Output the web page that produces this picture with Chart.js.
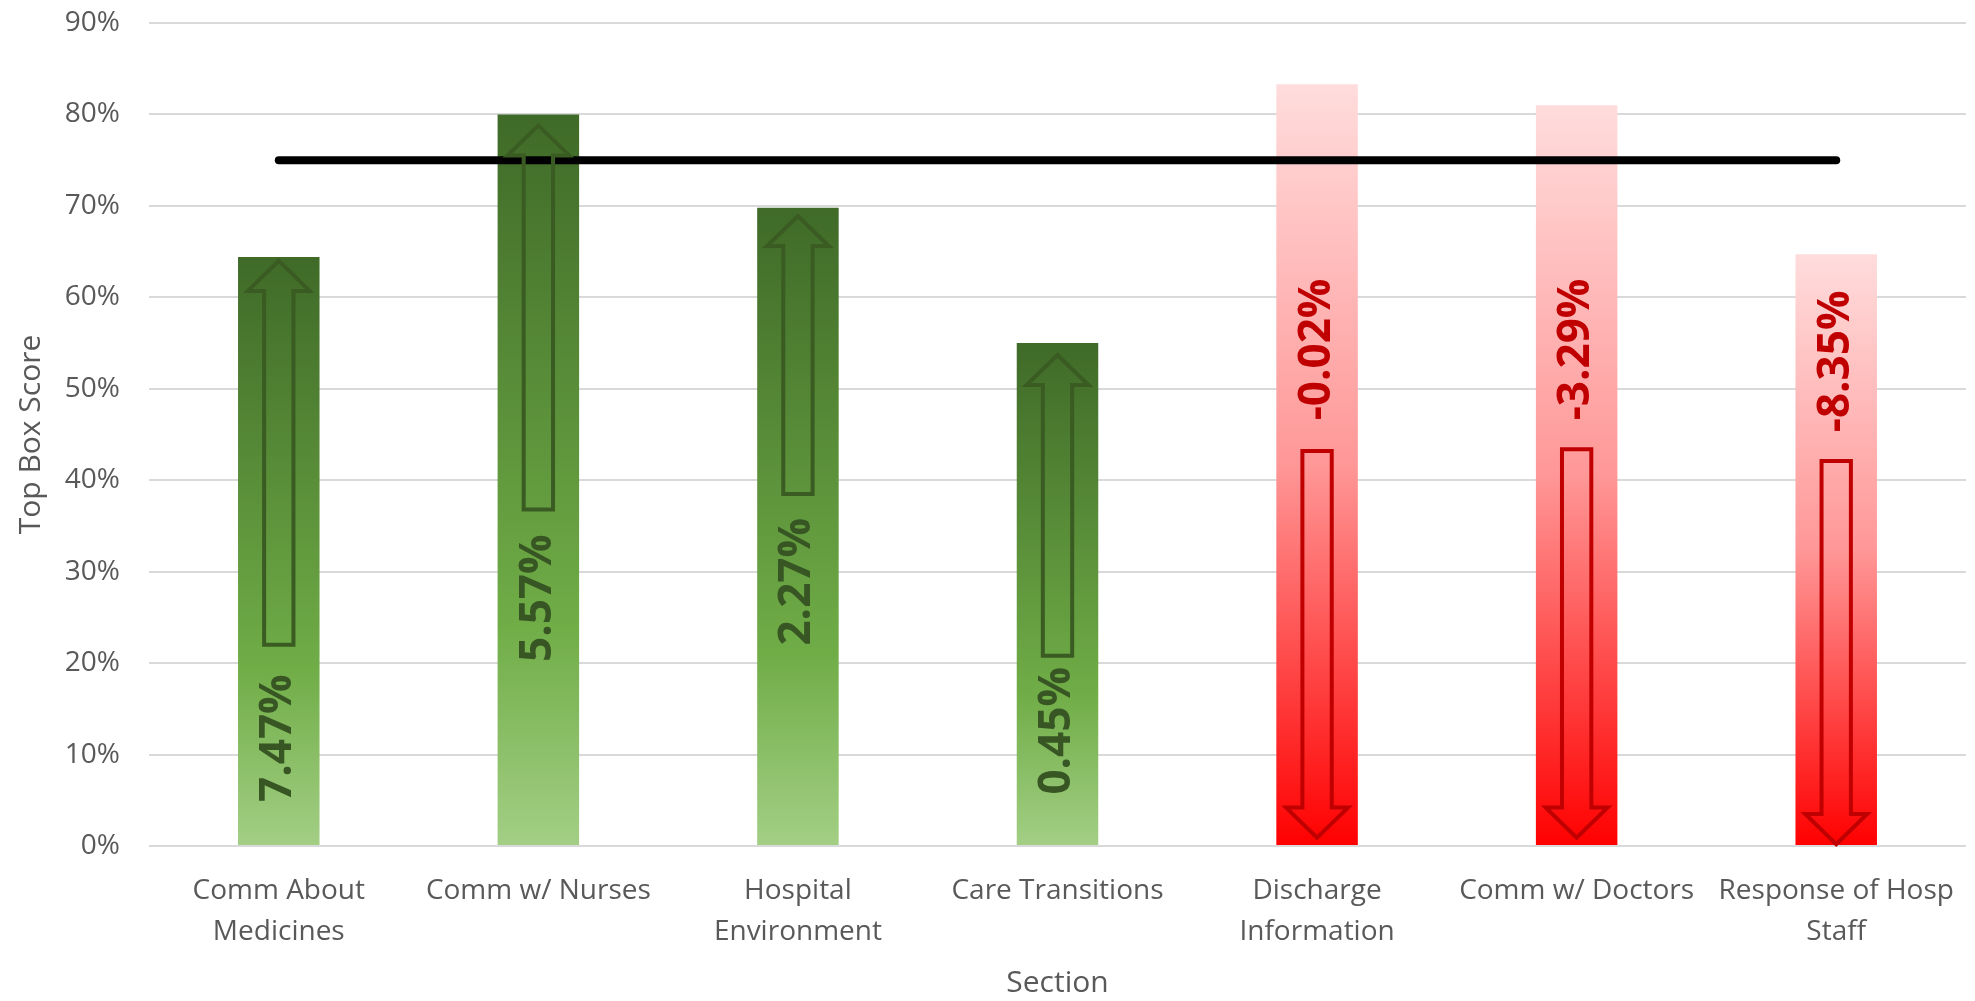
<!DOCTYPE html>
<html>
<head>
<meta charset="utf-8">
<script src="https://cdn.jsdelivr.net/npm/chart.js@4.4.1/dist/chart.umd.min.js"></script>
<style>
  html, body { margin: 0; padding: 0; background: #fff; }
  #wrap { width: 1975px; height: 1001px; }
</style>
</head>
<body>
<div id="wrap"><canvas id="bar-chart"></canvas></div>
<script>
// categories and values
var sections = [
  ['Comm About', 'Medicines'], 'Comm w/ Nurses', ['Hospital', 'Environment'],
  'Care Transitions', ['Discharge', 'Information'], 'Comm w/ Doctors', ['Response of Hosp', 'Staff']
];
var scores  = [64.4, 80.0, 69.8, 55.0, 83.3, 81.0, 64.7];   // Top Box Score (%)
var changes = [7.47, 5.57, 2.27, 0.45, -0.02, -3.29, -8.35]; // change shown in each bar (%)
var target  = [75, 75, 75, 75, 75, 75, 75];                  // black benchmark line
var yTicks  = [0, 10, 20, 30, 40, 50, 60, 70, 80, 90];

// arrow and label placement inside each bar, in axis units (%)
var arrowTail = [22.0, 36.8, 38.5, 20.8, 43.2, 43.4, 42.1];
var arrowTip  = [64.0, 78.8, 68.9, 53.7, 0.9, 0.9, 0.2];
var labelAt   = [11.8, 27.1, 28.9, 12.6, 54.3, 54.3, 53.0];

var GREY = '#595959';

function barFill(c) {
  var chart = c.chart;
  if (!chart.chartArea) return '#70ad47';
  var y = chart.scales.y;
  var top = y.getPixelForValue(c.raw);
  var bot = y.getPixelForValue(0);
  var g = chart.ctx.createLinearGradient(0, top, 0, bot);
  if (changes[c.dataIndex] > 0) {
    g.addColorStop(0, '#3f6a28');
    g.addColorStop(0.7, '#70ad47');
    g.addColorStop(1, '#a3cf85');
  } else {
    g.addColorStop(0, '#ffdcdc');
    g.addColorStop(0.5, '#ff9797');
    g.addColorStop(1, '#ff0000');
  }
  return g;
}

// block arrows + rotated change labels drawn on top of the bars
var arrowPlugin = {
  id: 'arrows',
  afterDatasetsDraw: function(chart) {
    var ctx = chart.ctx, y = chart.scales.y;
    var bars = chart.getDatasetMeta(1).data;
    bars.forEach(function(bar, i) {
      var up = changes[i] > 0;
      var cx = bar.x, w = bar.width;
      var yTail = y.getPixelForValue(arrowTail[i]);
      var yTip = y.getPixelForValue(arrowTip[i]);
      var dir = yTip < yTail ? -1 : 1;
      var headW = w * 0.76, shaftW = w * 0.36, headH = w * 0.37;
      var yNeck = yTip - dir * headH;
      ctx.save();
      ctx.beginPath();
      ctx.moveTo(cx - shaftW / 2, yTail);
      ctx.lineTo(cx - shaftW / 2, yNeck);
      ctx.lineTo(cx - headW / 2, yNeck);
      ctx.lineTo(cx, yTip);
      ctx.lineTo(cx + headW / 2, yNeck);
      ctx.lineTo(cx + shaftW / 2, yNeck);
      ctx.lineTo(cx + shaftW / 2, yTail);
      ctx.closePath();
      ctx.lineWidth = 4;
      ctx.lineJoin = 'miter';
      ctx.strokeStyle = up ? '#3a5c22' : '#c00000';
      ctx.stroke();

      ctx.translate(cx, y.getPixelForValue(labelAt[i]));
      ctx.rotate(-Math.PI / 2);
      ctx.font = 'bold 44px "Open Sans"';
      ctx.fillStyle = up ? '#375623' : '#c00000';
      ctx.textAlign = 'center';
      ctx.textBaseline = 'middle';
      ctx.fillText(changes[i].toFixed(2) + '%', 0, 0);
      ctx.restore();
    });
  }
};

var myBarChart = new Chart(document.getElementById('bar-chart'), {
  type: 'bar',
  data: {
    labels: sections,
    datasets: [
      {
        type: 'line',
        label: 'Target',
        data: target,
        borderColor: '#000',
        borderWidth: 8,
        borderCapStyle: 'round',
        pointRadius: 0,
        fill: false,
        order: 0
      },
      {
        label: 'Top Box Score',
        data: scores,
        backgroundColor: barFill,
        borderWidth: 0,
        categoryPercentage: 1,
        barPercentage: 0.314,
        order: 1
      }
    ]
  },
  options: {
    responsive: true,
    maintainAspectRatio: false,
    animation: false,
    layout: { padding: { top: 23, right: 9, bottom: 0, left: 0 } },
    plugins: {
      legend: { display: false },
      tooltip: { enabled: false }
    },
    scales: {
      x: {
        grid: { display: false },
        border: { display: false },
        ticks: {
          color: GREY,
          font: { family: 'Open Sans', size: 28, lineHeight: 1.45 },
          padding: 17,
          maxRotation: 0,
          autoSkip: false
        },
        title: {
          display: true,
          text: 'Section',
          color: GREY,
          font: { family: 'Open Sans', size: 30 },
          padding: { top: 0, bottom: 0 }
        },
        afterFit: function(scale) {
          scale.height = 155;
          scale.paddingLeft = 0;
          scale.paddingRight = 0;
        }
      },
      y: {
        min: 0,
        max: 90,
        afterBuildTicks: function(scale) {
          scale.ticks = yTicks.map(function(v) { return { value: v }; });
        },
        grid: { color: '#d9d9d9', lineWidth: 2, drawTicks: false },
        border: { display: false },
        ticks: {
          color: GREY,
          font: { family: 'Open Sans', size: 28 },
          padding: 29,
          callback: function(v) { return v + '%'; }
        },
        title: {
          display: true,
          text: 'Top Box Score',
          color: GREY,
          font: { family: 'Open Sans', size: 30 },
          padding: { top: 13, bottom: 0 }
        },
        afterFit: function(scale) {
          scale.width = 149;
          scale.paddingTop = 0;
          scale.paddingBottom = 0;
        }
      }
    }
  },
  plugins: [arrowPlugin]
});
</script>
</body>
</html>
